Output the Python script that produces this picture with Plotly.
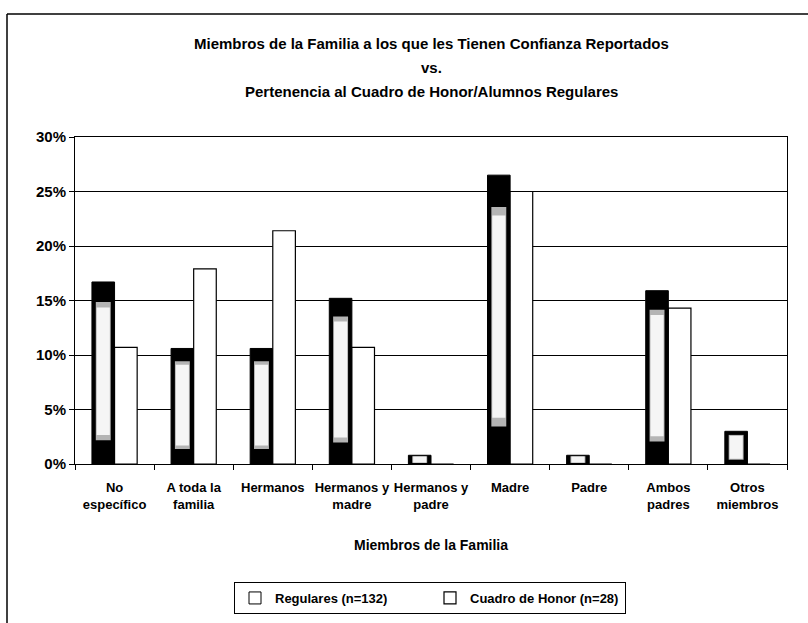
import numpy as np
import plotly.graph_objects as go

# values (percent of each group)
categories = [
    "No<br>específico",
    "A toda la<br>familia",
    "Hermanos",
    "Hermanos y<br>madre",
    "Hermanos y<br>padre",
    "Madre",
    "Padre",
    "Ambos<br>padres",
    "Otros<br>miembros",
]
regulares = [16.7, 10.6, 10.6, 15.2, 0.8, 26.5, 0.8, 15.9, 3.0]
cuadro_honor = [10.7, 17.9, 21.4, 10.7, 0.0, 25.0, 0.0, 14.3, 0.0]
y_ticks = [0, 5, 10, 15, 20, 25, 30]
y_labels = ["0%", "5%", "10%", "15%", "20%", "25%", "30%"]

title_lines = [
    "Miembros de la Familia a los que les Tienen Confianza Reportados",
    "vs.",
    "Pertenencia al Cuadro de Honor/Alumnos Regulares",
]

W, H = 808, 623
L, R, T, B = 75, 21, 137, 159
pw, ph = W - L - R, H - T - B

FONT = "Liberation Sans, Arial, sans-serif"

# Excel style: gap width 150% -> each bar is 1/3.5 of a category
bw = 1 / 3.5
reg = np.array(regulares)


def px_x(p):
    return (p - L) / pw


def px_y(p):
    return (T + ph - p) / ph


fig = go.Figure()

# legend entry for the gradient series (white box with black border)
fig.add_trace(go.Bar(
    x=categories, y=regulares, name="Regulares (n=132)",
    width=bw, offset=-bw,
    marker=dict(color="white", line=dict(color="black", width=1)),
    hoverinfo="skip",
))
fig.add_trace(go.Bar(
    x=categories, y=cuadro_honor, name="Cuadro de Honor (n=28)",
    width=bw, offset=0,
    marker=dict(color="white", line=dict(color="black", width=1.2)),
))

# fake the dark-edge gradient of the Regulares bars with stacked layers
fig.add_trace(go.Bar(
    x=categories, y=regulares, width=bw, offset=-bw, showlegend=False,
    marker=dict(color="black", line=dict(width=0)), hoverinfo="skip",
))
fig.add_trace(go.Bar(
    x=categories, y=reg * 0.76, base=reg * 0.13,
    width=bw * 0.66, offset=-bw + bw * 0.17, showlegend=False,
    marker=dict(color="#b4b4b4", line=dict(width=0)), hoverinfo="skip",
))
fig.add_trace(go.Bar(
    x=categories, y=reg * 0.70, base=reg * 0.16,
    width=bw * 0.58, offset=-bw + bw * 0.21, showlegend=False,
    marker=dict(color="#f5f5f5", line=dict(width=0)), hoverinfo="skip",
))

for txt, py in zip(title_lines, [44, 68, 92]):
    fig.add_annotation(
        text=txt, x=0.5, y=px_y(py), xref="paper", yref="paper",
        xanchor="center", yanchor="middle", showarrow=False,
        font=dict(family=FONT, size=15, color="black", weight="bold"),
    )

fig.add_annotation(
    text="Miembros de la Familia", x=0.5, y=px_y(545), xref="paper", yref="paper",
    xanchor="center", yanchor="middle", showarrow=False,
    font=dict(family=FONT, size=14, color="black", weight="bold"),
)

# outer chart border (only top and left edges are inside the scan)
fig.add_shape(type="line", xref="paper", yref="paper",
              x0=px_x(7), x1=px_x(W + 5), y0=px_y(14), y1=px_y(14),
              line=dict(color="black", width=1.5))
fig.add_shape(type="line", xref="paper", yref="paper",
              x0=px_x(7), x1=px_x(7), y0=px_y(14), y1=px_y(H + 5),
              line=dict(color="black", width=1.5))

fig.update_layout(
    width=W, height=H, autosize=False,
    margin=dict(l=L, r=R, t=T, b=B, autoexpand=False),
    paper_bgcolor="white", plot_bgcolor="white",
    barmode="overlay",
    font=dict(family=FONT, size=13, color="black"),
    showlegend=True,
    legend=dict(
        orientation="h", x=px_x(430), xanchor="center", y=px_y(582), yanchor="top",
        bordercolor="black", borderwidth=1, bgcolor="white",
        font=dict(family=FONT, size=13, color="black", weight="bold"),
        traceorder="normal", entrywidth=150, entrywidthmode="pixels",
    ),
)
fig.update_xaxes(
    type="category", showgrid=False, showline=True, linecolor="black", linewidth=1,
    mirror=True, ticks="outside", tickson="boundaries", ticklen=5, tickcolor="black",
    tickfont=dict(family=FONT, size=13, color="black", weight="bold"),
    tickangle=0, automargin=False, ticklabelstandoff=11,
)
fig.update_yaxes(
    range=[0, 30], tickvals=y_ticks, ticktext=y_labels, showgrid=True,
    gridcolor="black", gridwidth=1, showline=True, linecolor="black", linewidth=1,
    mirror=True, ticks="outside", ticklen=5, tickcolor="black", zeroline=False,
    tickfont=dict(family=FONT, size=15, color="black", weight="bold"),
    automargin=False,
)

# drop the browser's default 8px body margin so the figure sits at 0,0
fig.write_html(
    "out.html",
    config={"displayModeBar": False},
    post_script="document.body.style.margin='0px';",
)
